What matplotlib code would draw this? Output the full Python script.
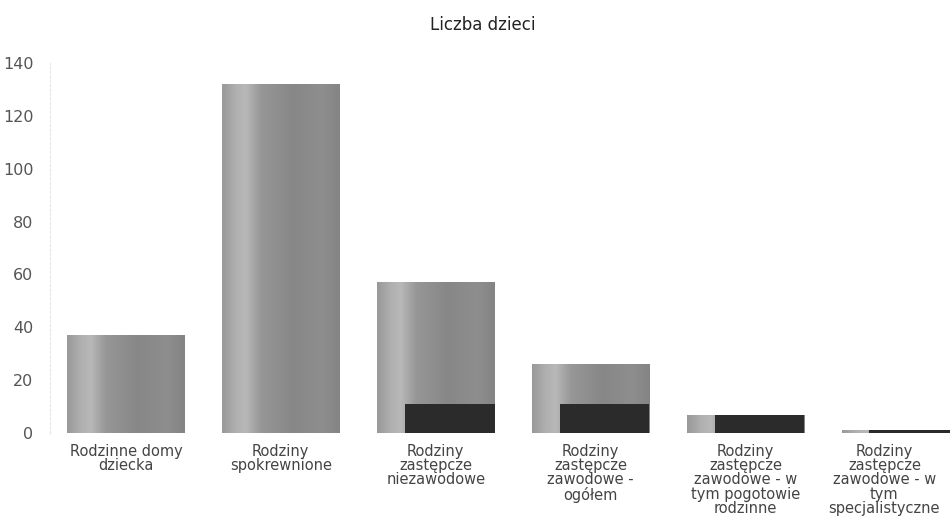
import numpy as np
import matplotlib
matplotlib.use('Agg')
import matplotlib.pyplot as plt
import matplotlib.transforms as mtransforms
from matplotlib.colors import LinearSegmentedColormap

# values
categories = ['Rodzinne domy\ndziecka',
              'Rodziny\nspokrewnione',
              'Rodziny\nzastępcze\nniezawodowe',
              'Rodziny\nzastępcze\nzawodowe -\nogółem',
              'Rodziny\nzastępcze\nzawodowe - w\ntym pogotowie\nrodzinne',
              'Rodziny\nzastępcze\nzawodowe - w\ntym\nspecjalistyczne']
values = [37, 132, 57, 26, 7, 1]
dark_values = [0, 0, 11, 11, 7, 1]
yticks = [0, 20, 40, 60, 80, 100, 120, 140]
title = 'Liczba dzieci'


def plot():
    fig = plt.figure(figsize=(9.5, 5.29), dpi=100)
    ax = fig.add_axes([50 / 950, 96 / 529, 900 / 950, 370 / 529])

    x = np.arange(len(categories))
    width = 0.76
    bars = ax.bar(x, values, width=width, color='none', edgecolor='none')

    grays = LinearSegmentedColormap.from_list(
        'bar', [(0.0, '#999999'), (0.12, '#b0b0b0'), (0.2, '#b8b8b8'),
                (0.33, '#979797'), (0.6, '#878787'), (0.85, '#8e8e8e'),
                (1.0, '#848484')])
    grad = np.linspace(0, 1, 256).reshape(1, -1)
    for b in bars:
        x0, y0 = b.get_x(), b.get_y()
        im = ax.imshow(grad, cmap=grays, aspect='auto', interpolation='bilinear',
                       extent=(x0, x0 + b.get_width(), y0, y0 + b.get_height()),
                       zorder=2)
        im.set_clip_path(b)

    # dark blocks at the bottom of some bars
    dw = 0.58
    ax.bar(x + width / 2 - dw / 2, dark_values, width=dw, color='#2b2b2b',
           edgecolor='none', zorder=3)

    ax.set_xlim(-0.49, 5.32)
    ax.set_ylim(0, 140)
    ax.set_yticks(yticks)
    ax.set_yticklabels([str(t) for t in yticks], color='#555555', fontsize=11.5)
    ax.set_xticks(x)
    ax.set_xticklabels(categories, color='#444444', fontsize=10.5,
                       linespacing=0.93, va='top')
    ax.tick_params(axis='both', length=0)
    ax.tick_params(axis='x', pad=8)
    ax.tick_params(axis='y', pad=12)

    # last label is pushed left so it stays inside the canvas
    last = ax.get_xticklabels()[-1]
    last.set_transform(last.get_transform() +
                       mtransforms.ScaledTranslation(-16 / 100, 0, fig.dpi_scale_trans))

    for s in ['top', 'right', 'bottom']:
        ax.spines[s].set_visible(False)
    ax.spines['left'].set_color('#e6e6e6')
    ax.spines['left'].set_linestyle((0, (2, 2)))

    fig.text(483 / 950, 1 - 25 / 529, title, ha='center', va='center',
             fontsize=12, color='#222222')

    fig.savefig('out.png', dpi=100)


if __name__ == '__main__':
    plot()
